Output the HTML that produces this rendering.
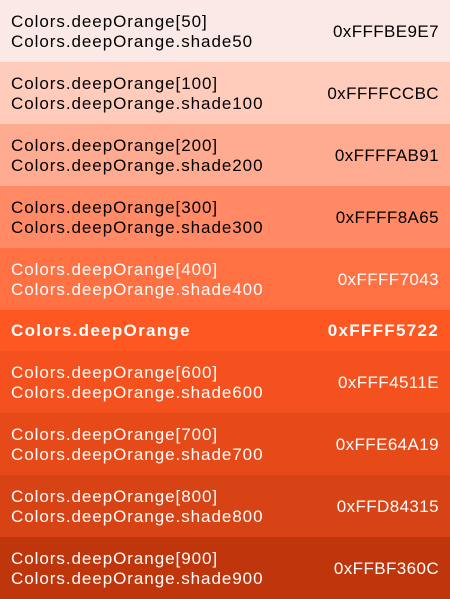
<!DOCTYPE html>
<html><head><style>
body{margin:0;width:450px;height:599px;overflow:hidden;font-family:"Liberation Sans",sans-serif;font-size:17px}
.r{display:flex;justify-content:space-between;align-items:center;height:62px;padding:1px 11px 0 11px;box-sizing:border-box;line-height:20px}
.r>div:first-child{letter-spacing:0.95px}
.r>div:last-child{letter-spacing:0.4px}
.d{color:#000}.w{color:#fff}
.b{height:41px;font-weight:bold}
.b>div:first-child{letter-spacing:1.3px}
.b>div:last-child{letter-spacing:1.3px}
</style></head><body>
<div class="r d" style="background:#FBE9E7"><div>Colors.deepOrange[50]<br>Colors.deepOrange.shade50</div><div>0xFFFBE9E7</div></div>
<div class="r d" style="background:#FFCCBC"><div>Colors.deepOrange[100]<br>Colors.deepOrange.shade100</div><div>0xFFFFCCBC</div></div>
<div class="r d" style="background:#FFAB91"><div>Colors.deepOrange[200]<br>Colors.deepOrange.shade200</div><div>0xFFFFAB91</div></div>
<div class="r d" style="background:#FF8A65"><div>Colors.deepOrange[300]<br>Colors.deepOrange.shade300</div><div>0xFFFF8A65</div></div>
<div class="r w" style="background:#FF7043"><div>Colors.deepOrange[400]<br>Colors.deepOrange.shade400</div><div>0xFFFF7043</div></div>
<div class="r w b" style="background:#FF5722"><div>Colors.deepOrange</div><div>0xFFFF5722</div></div>
<div class="r w" style="background:#F4511E"><div>Colors.deepOrange[600]<br>Colors.deepOrange.shade600</div><div>0xFFF4511E</div></div>
<div class="r w" style="background:#E64A19"><div>Colors.deepOrange[700]<br>Colors.deepOrange.shade700</div><div>0xFFE64A19</div></div>
<div class="r w" style="background:#D84315"><div>Colors.deepOrange[800]<br>Colors.deepOrange.shade800</div><div>0xFFD84315</div></div>
<div class="r w" style="background:#BF360C"><div>Colors.deepOrange[900]<br>Colors.deepOrange.shade900</div><div>0xFFBF360C</div></div>
</body></html>
